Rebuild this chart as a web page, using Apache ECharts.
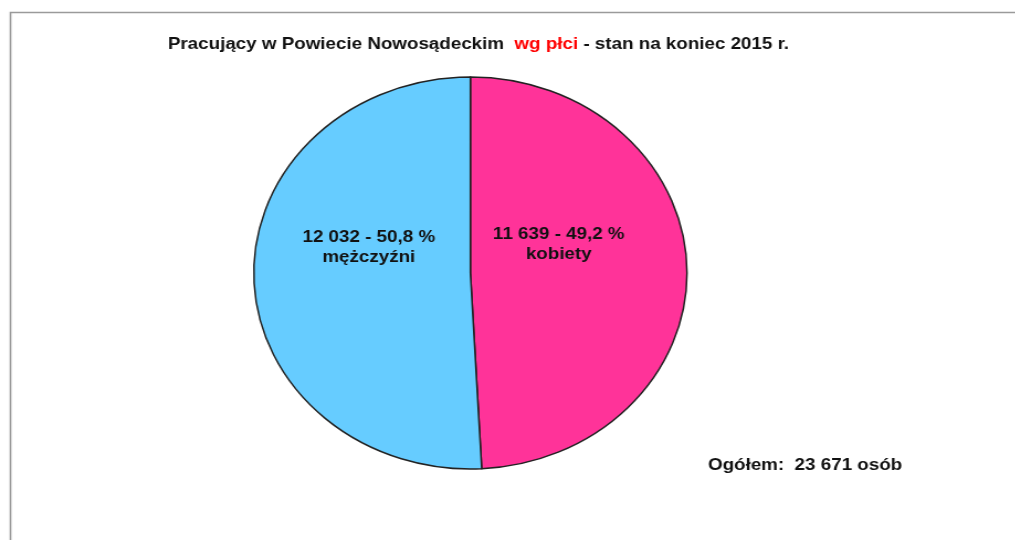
<!DOCTYPE html>
<html>
<head>
<meta charset="utf-8">
<script src="https://cdn.jsdelivr.net/npm/echarts@6/dist/echarts.min.js"></script>
<style>
html,body{margin:0;padding:0;background:#fff;overflow:hidden;width:1015px;height:540px;}
#chart{width:918.5px;height:540px;transform:scaleX(1.105);transform-origin:0 0;}
</style>
</head>
<body>
<div id="chart"></div>
<script>
const categories = ['kobiety', 'mężczyźni'];
const values = [11639, 12032];
const colors = ['#FF3399', '#66CCFF'];
const titleParts = ['Pracujący w Powiecie Nowosądeckim  ', 'wg płci', ' - stan na koniec 2015 r.'];
const totalLabel = ['Ogółem:  ', ' osób'];

function fmt(n){ return String(n).replace(/\B(?=(\d{3})+(?!\d))/g, ' '); }
const total = values.reduce((a,b)=>a+b,0);
const labelOffsets = [[-21,-26],[9,-28]];

const chart = echarts.init(document.getElementById('chart'), null, {renderer:'canvas'});
chart.setOption({
  backgroundColor:'#fff',
  animation:false,
  title:{
    text:'{a|'+titleParts[0]+'}{r|'+titleParts[1]+'}{a|'+titleParts[2]+'}',
    left:428, top:31, textAlign:'center',
    textStyle:{
      rich:{
        a:{fontFamily:'Liberation Sans, Arial, sans-serif',fontWeight:'bold',fontSize:17,color:'#111'},
        r:{fontFamily:'Liberation Sans, Arial, sans-serif',fontWeight:'bold',fontSize:17,color:'#FF0000'}
      }
    }
  },
  graphic:[
    {type:'polyline',silent:true,shape:{points:[[9.5,560],[9.5,12.5],[940,12.5]]},style:{stroke:'#9a9a9a',lineWidth:1.6,fill:null}},
    {type:'text',left:640.7,top:457,silent:true,style:{
      text:totalLabel[0]+fmt(total)+totalLabel[1],
      font:'bold 17px "Liberation Sans", Arial, sans-serif',fill:'#111'}}
  ],
  series:[{
    type:'pie',
    center:[425.7,273],
    radius:[0,196],
    startAngle:90,
    clockwise:true,
    percentPrecision:1,
    itemStyle:{borderColor:'#222',borderWidth:1.5},
    emphasis:{disabled:true},
    label:{
      show:true,position:'inside',
      fontFamily:'Liberation Sans, Arial, sans-serif',fontWeight:'bold',fontSize:17,color:'#111',lineHeight:20,
      formatter:p=>fmt(p.value)+' - '+String(p.percent.toFixed(1)).replace('.',',')+' %\n'+p.name
    },
    labelLine:{show:false},
    data:categories.map((c,i)=>({name:c,value:values[i],itemStyle:{color:colors[i]},label:{offset:labelOffsets[i]}}))
  }]
});
</script>
</body>
</html>
